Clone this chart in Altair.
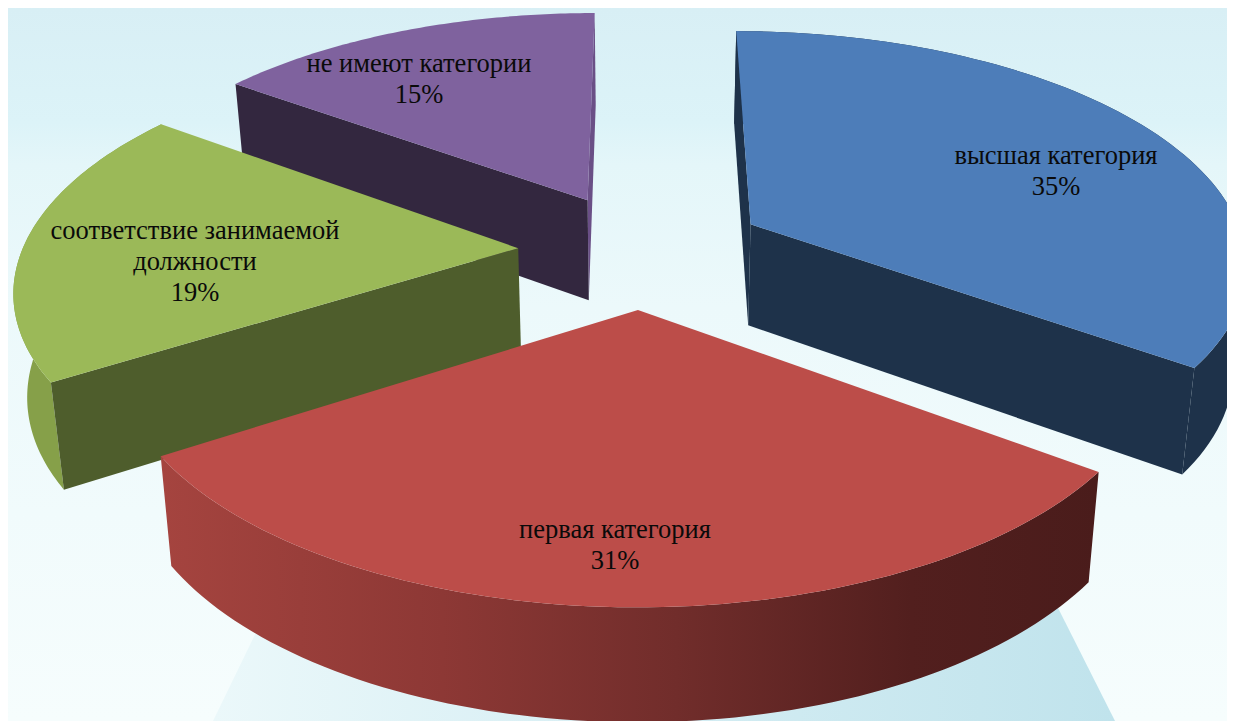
import math
import altair as alt

# ---- values
categories = ["высшая категория", "первая категория", "соответствие занимаемой должности", "не имеют категории"]
shares = [35, 31, 19, 15]
label_lines = [["высшая категория", "35%"], ["первая категория", "31%"],
               ["соответствие занимаемой", "должности", "19%"], ["не имеют категории", "15%"]]
top_colors = ["#4d7db9", "#bc4d49", "#9bb958", "#7f629e"]
wall_colors = ["#1e324a", "#4c1d1c", "#4e5d2c", "#33273f"]

# ---- view of the tilted, exploded pie (page pixels minus the 8px margin)
W, H = 1219, 713
OFF = 8
X0, Y0 = 642 - OFF, 250 - OFF
A, B, P = 496.0, 230.5, 0.155
EXPLODE = 0.25
DEPTH, DEPTH_P, SHRINK = 102.0, 0.09, 0.978


def project(X, U, lower=False):
    k = 1 - P * U
    x = A * X / k
    y = Y0 + B * U / k
    if lower:
        x *= SHRINK
        y += DEPTH / (1 - DEPTH_P * U)
    return [X0 + x, y]


total = sum(shares)
angles = []
run = 0.0
for s in shares:
    angles.append((run / total * 2 * math.pi, (run + s) / total * 2 * math.pi))
    run += s


def world(i, t=None):
    a0, a1 = angles[i]
    mid = (a0 + a1) / 2
    X = EXPLODE * math.sin(mid)
    U = -EXPLODE * math.cos(mid)
    if t is not None:
        X += math.sin(t)
        U += -math.cos(t)
    return X, U


def arc(i, t0, t1, lower=False, n=80):
    return [project(*world(i, t0 + (t1 - t0) * j / n), lower) for j in range(n + 1)]


def feature(ring, fill):
    ring = ring + [ring[0]]
    return {"type": "Feature", "properties": {"fill": fill},
            "geometry": {"type": "Polygon", "coordinates": [ring]}}


def top_face(i, fill):
    a0, a1 = angles[i]
    return feature([project(*world(i))] + arc(i, a0, a1), fill)


def radial_wall(i, t, fill):
    c, e = world(i), world(i, t)
    return feature([project(*c), project(*e), project(*e, True), project(*c, True)], fill)


def outer_wall(i, t0, t1, fill):
    return feature(arc(i, t0, t1) + arc(i, t0, t1, True)[::-1], fill)


a = angles
back = [
    # purple
    radial_wall(3, a[3][1], "#6a4f86"),
    radial_wall(3, a[3][0], wall_colors[3]),
    top_face(3, top_colors[3]),
    # blue
    outer_wall(0, a[0][0], a[0][1], wall_colors[0]),
    radial_wall(0, a[0][0], wall_colors[0]),
    radial_wall(0, a[0][1], wall_colors[0]),
    top_face(0, top_colors[0]),
    # green
    outer_wall(2, a[2][0], a[2][1], "#86a049"),
    radial_wall(2, a[2][0], wall_colors[2]),
    top_face(2, top_colors[2]),
]
red_wall = [outer_wall(1, a[1][0], a[1][1], wall_colors[1])]
red_top = [top_face(1, top_colors[1])]

# pale backdrop
sky = alt.Gradient(gradient="linear", x1=0, x2=0, y1=0, y2=1, stops=[
    alt.GradientStop(offset=0.0, color="#d8eff5"),
    alt.GradientStop(offset=0.16, color="#dcf3f8"),
    alt.GradientStop(offset=0.22, color="#e4f6f9"),
    alt.GradientStop(offset=0.42, color="#ecf9fb"),
    alt.GradientStop(offset=1.0, color="#f6fdfd"),
])
backdrop = alt.Chart(alt.Data(values=[{"a": 1}])).mark_rect(fill=sky).encode(
    x=alt.value(0), x2=alt.value(W), y=alt.value(0), y2=alt.value(H))

mountain = [feature([[205, H], [255, 610], [1045, 590], [1107, H]], "#c3e5ee")]
mountain_fill = alt.Gradient(gradient="linear", x1=0, x2=1, y1=0, y2=0, stops=[
    alt.GradientStop(offset=0.0, color="#ebf8fa"),
    alt.GradientStop(offset=0.5, color="#d4edf3"),
    alt.GradientStop(offset=1.0, color="#c0e3ec"),
])


def shapes(features, **kw):
    return alt.Chart(alt.Data(values=features)).mark_geoshape(strokeWidth=0, **kw).project(
        type="identity", scale=1, translate=[0, 0])


def colored(features):
    return shapes(features).encode(color=alt.Color("properties.fill:N", scale=None))


red_side = alt.Gradient(gradient="linear", x1=0, x2=1, y1=0, y2=0, stops=[
    alt.GradientStop(offset=0.0, color="#a5443f"),
    alt.GradientStop(offset=0.3, color="#8d3835"),
    alt.GradientStop(offset=0.55, color="#712d2b"),
    alt.GradientStop(offset=0.8, color="#521f1e"),
    alt.GradientStop(offset=1.0, color="#4a1c1b"),
])

label_centers = [(1056, 171), (615, 545), (195, 262), (419, 79)]
LINE = 31
rows = []
for lines, (cx, cy) in zip(label_lines, label_centers):
    for j, line in enumerate(lines):
        rows.append({"t": line, "x": cx - OFF, "y": cy - OFF + (j - (len(lines) - 1) / 2) * LINE})

text = alt.Chart(alt.Data(values=rows)).mark_text(
    font="Liberation Serif", fontSize=26.5, color="#0a0a0a", align="center", baseline="middle"
).encode(x=alt.X("x:Q", scale=None), y=alt.Y("y:Q", scale=None), text="t:N")

chart = alt.layer(
    backdrop,
    shapes(mountain, fill=mountain_fill),
    colored(back),
    shapes(red_wall, fill=red_side),
    colored(red_top),
    text,
).properties(width=W, height=H, padding=0, autosize=alt.AutoSizeParams(type="none"),
             background="#ecf9fb").configure_view(stroke=None)

chart.save("out.html", embed_options={"renderer": "svg", "actions": False})
